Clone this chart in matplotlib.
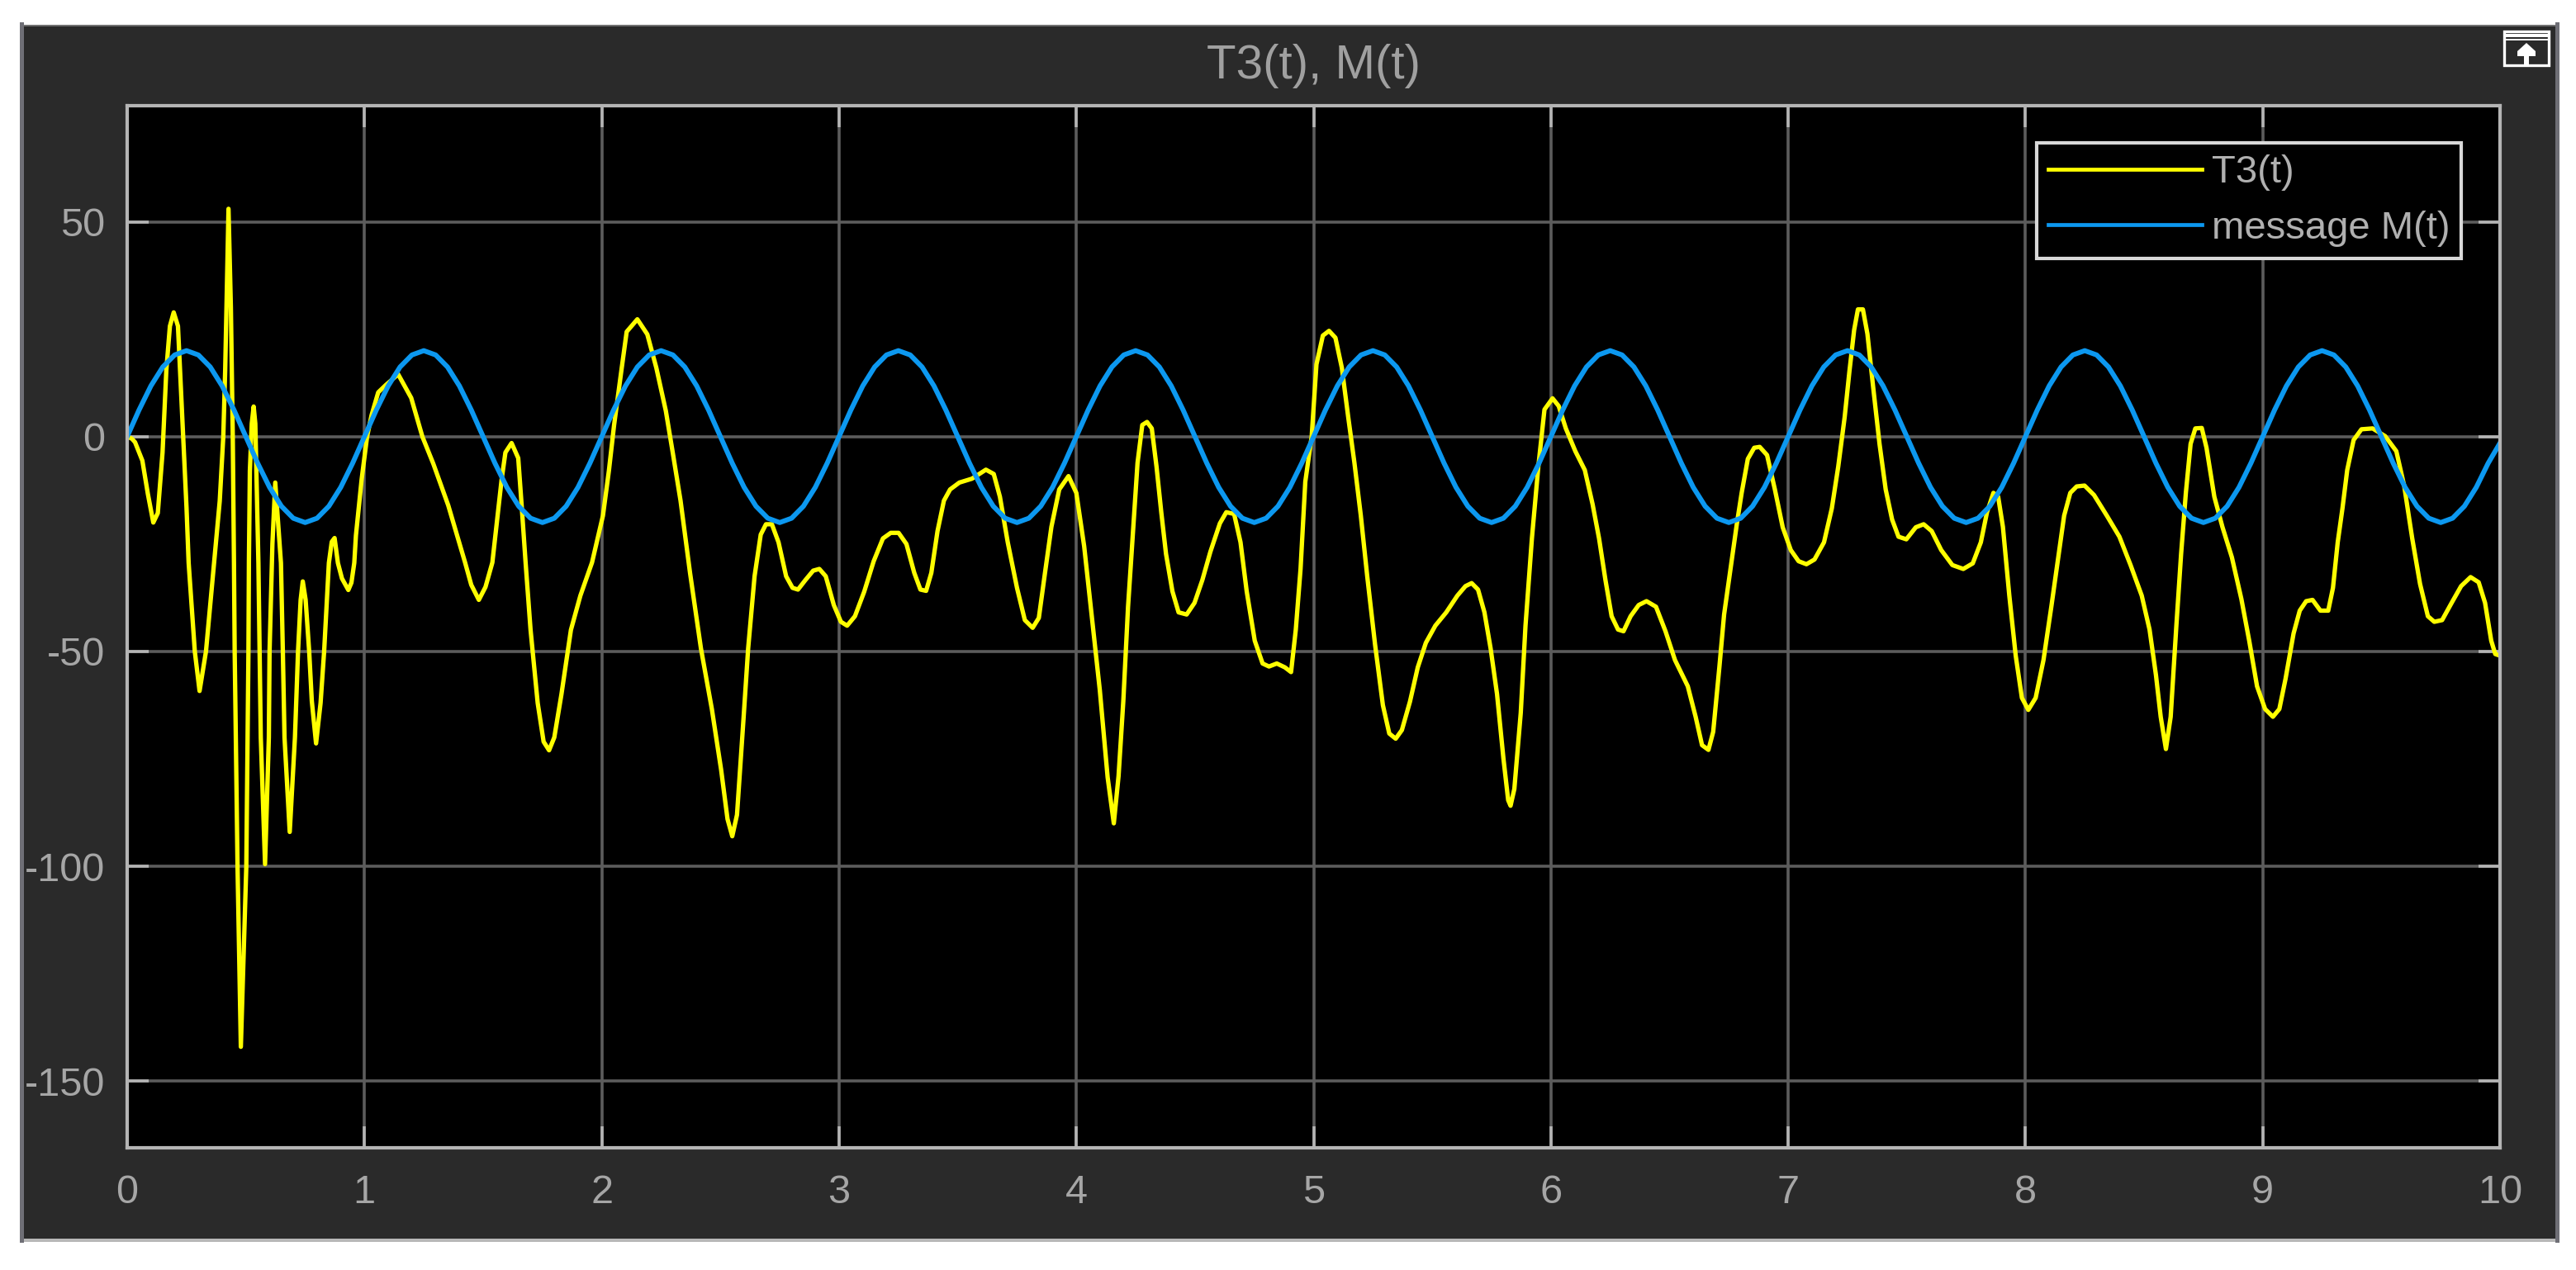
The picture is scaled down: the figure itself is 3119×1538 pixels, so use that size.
import matplotlib
matplotlib.use("Agg")
import matplotlib.pyplot as plt
from matplotlib.patches import Rectangle, Polygon
from matplotlib.transforms import Affine2D

W, H = 3119, 1538

# ----- data -----
t3_time = [
    0, 0.02, 0.033, 0.064, 0.087, 0.11, 0.129, 0.149, 0.165, 0.18, 0.196, 0.214, 0.236, 0.25, 0.259, 0.285,
    0.305, 0.332, 0.366, 0.39, 0.405, 0.413, 0.427, 0.437, 0.445, 0.45, 0.453, 0.465, 0.479, 0.502, 0.511, 0.513,
    0.517, 0.525, 0.533, 0.54, 0.553, 0.558, 0.563, 0.581, 0.597, 0.60, 0.612, 0.624, 0.636, 0.648, 0.656, 0.663,
    0.685, 0.707, 0.72, 0.731, 0.74, 0.752, 0.767, 0.778, 0.796, 0.815, 0.83, 0.85, 0.862, 0.874, 0.888, 0.905,
    0.932, 0.945, 0.957, 0.964, 0.988, 1.011, 1.03, 1.058, 1.09, 1.142, 1.197, 1.244, 1.29, 1.353, 1.40, 1.424,
    1.45, 1.482, 1.51, 1.539, 1.578, 1.594, 1.62, 1.648, 1.663, 1.679, 1.70, 1.73, 1.755, 1.778, 1.80, 1.83,
    1.87, 1.91, 1.959, 2.005, 2.03, 2.052, 2.083, 2.105, 2.15, 2.192, 2.23, 2.27, 2.30,
    2.332, 2.372, 2.418, 2.464, 2.503, 2.53, 2.55, 2.57, 2.597, 2.617, 2.644, 2.67, 2.692, 2.717, 2.745, 2.777,
    2.804, 2.827, 2.858, 2.891, 2.917, 2.944, 2.978, 3.008, 3.034, 3.067, 3.106, 3.146, 3.185, 3.218, 3.251, 3.284,
    3.317, 3.343, 3.367, 3.389, 3.415, 3.442, 3.468, 3.507, 3.56, 3.619, 3.652, 3.678, 3.711, 3.75, 3.783, 3.816,
    3.842, 3.868, 3.895, 3.928, 3.967, 4.0, 4.033, 4.066, 4.099, 4.132,
    4.158, 4.178, 4.198, 4.218, 4.238, 4.258, 4.278, 4.298, 4.318, 4.338, 4.358, 4.378, 4.405, 4.431, 4.465, 4.498,
    4.531, 4.565, 4.605, 4.632, 4.665, 4.692, 4.718, 4.752, 4.785, 4.812, 4.845, 4.879, 4.905, 4.925, 4.945, 4.965,
    4.992, 5.012, 5.039, 5.065, 5.092, 5.119, 5.146, 5.172, 5.199, 5.226, 5.259, 5.292, 5.319, 5.346, 5.372, 5.406,
    5.439, 5.473, 5.513, 5.559, 5.606, 5.64, 5.666, 5.693, 5.72, 5.746, 5.773, 5.80, 5.82, 5.83, 5.846, 5.873,
    5.893, 5.92, 5.947, 5.973, 6.007, 6.033,
    6.063, 6.103, 6.143, 6.176, 6.203, 6.23, 6.256, 6.283, 6.306, 6.336, 6.37, 6.403, 6.443, 6.483, 6.523, 6.577,
    6.61, 6.637, 6.664, 6.684, 6.71, 6.73, 6.757, 6.784, 6.804, 6.83, 6.857, 6.88, 6.911, 6.944, 6.977, 7.011,
    7.044, 7.077, 7.111, 7.151, 7.184, 7.211, 7.238, 7.258, 7.278, 7.294, 7.315, 7.334, 7.358, 7.385, 7.411, 7.438,
    7.465, 7.498, 7.538, 7.571, 7.605, 7.645, 7.692, 7.738, 7.778, 7.812, 7.838, 7.865, 7.885, 7.905, 7.932, 7.959,
    7.985,
    8.012, 8.043, 8.076, 8.109, 8.136, 8.163, 8.189, 8.216, 8.249, 8.289, 8.343, 8.396, 8.443, 8.49, 8.523, 8.55,
    8.57, 8.592, 8.612, 8.636, 8.656, 8.676, 8.696, 8.716, 8.743, 8.763, 8.796, 8.83, 8.87, 8.91, 8.943, 8.976,
    9.01, 9.043, 9.07, 9.096, 9.13, 9.156, 9.183, 9.21, 9.243, 9.276, 9.296, 9.316, 9.336, 9.356, 9.383, 9.416,
    9.463, 9.516, 9.563, 9.596, 9.63, 9.663, 9.696, 9.723, 9.756, 9.796, 9.836, 9.876, 9.91, 9.937, 9.963, 9.98, 10.0,
]
t3_vals = [
    0, -0.5, -1.3, -5.6, -13.3, -20, -17.8, -3.7, 15.5, 25.7, 28.9, 25.7, 0, -16.5, -29.4, -50,
    -59.2, -50, -29.4, -15, 0, 15.5, 53, 30, 0, -29.4, -50, -100, -142, -100, -50, -29,
    -8, 3, 7, 3, -29.4, -50, -70, -99.5, -70, -50, -25, -10.7, -20, -29.4, -50, -70,
    -92, -70, -50, -38, -33.7, -38, -50, -61.5, -71.4, -62, -50, -29.4, -24.5, -23.6, -29.4, -33,
    -35.7, -34, -29.4, -23, -10, 0, 5, 10.3, 12, 14.5, 9, 0, -6.3, -16, -24.8, -29.3,
    -34.5, -38, -35, -29.3, -10, -3.7, -1.5, -5, -16.5, -29.3, -45, -62, -71, -73, -70, -60,
    -45, -37, -29.3, -18.4, -8, 2.7, 15.5, 24.4, 27.3, 23.8, 16, 6, -4,
    -14.9, -31.7, -49.3, -63.4, -77.5, -89, -93, -88, -66, -49.3, -32.5, -22.8, -20.4, -20.4, -24.6, -32.5,
    -35.2, -35.6, -33.4, -31.2, -30.8, -32.5, -39.2, -43.1, -44, -41.8, -36.1, -29, -23.7, -22.4, -22.4, -25,
    -31.7, -35.6, -35.9, -31.7, -22, -14.9, -12.3, -10.7, -9.8, -7.7, -8.7, -14, -24.6, -35.2, -42.7, -44.5,
    -42.2, -31.7, -21, -12.3, -9.2, -13.1, -25.5, -42.2, -59, -79.3,
    -90, -79, -61.6, -39.6, -22.8, -6.1, 2.7, 3.4, 1.9, -7, -17.6, -27.3, -36, -40.9, -41.4, -38.7,
    -33.4, -26.8, -20.2, -17.6, -18, -24.6, -36, -47.5, -52.8, -53.5, -52.8, -53.7, -54.8, -44.9, -30.8, -10.5,
    0.1, 16.8, 23.5, 24.6, 23, 16, 4.5, -6.1, -18.4, -32.5, -48.4, -62.5, -69.1, -70.3, -68.3, -61.7,
    -53.7, -48, -44, -40.9, -37, -34.8, -34.1, -35.6, -40.9, -49.3, -59.9, -74.9, -84.6, -85.9, -82, -64.3,
    -44, -23.7, -7, 6.3, 8.9, 7.1,
    1.9, -3.4, -7.8, -15.8, -23.7, -33.4, -41.8, -44.9, -45.3, -41.8, -39.2, -38.3, -39.6, -45.3, -52, -58.1,
    -65.2, -71.8, -72.9, -68.7, -53.7, -41.4, -30.8, -20.2, -13.1, -5.2, -2.6, -2.4, -4.3, -12.3, -21.1, -26.4,
    -29, -29.7, -28.6, -24.6, -16.7, -7, 4.5, 15.1, 24.8, 29.6, 29.6, 23.9, 11.6, -1.7, -12.3, -19.3,
    -23.3, -23.9, -21.1, -20.4, -22, -26.4, -29.9, -30.8, -29.5, -24.6, -17.6, -13.1, -14, -21, -37, -51,
    -60.8,
    -63.6, -60.8, -52, -39.6, -29, -18.4, -13.1, -11.6, -11.4, -13.6, -18.4, -23.3, -29.9, -37, -44.9, -55.5,
    -65.2, -72.7, -65.2, -44, -27.3, -13.1, -1.7, 1.9, 2, -2.6, -14, -21, -28.1, -37.8, -47.5, -58.1,
    -63.4, -65.2, -63.4, -56.4, -45.8, -40.5, -38.3, -38, -40.5, -40.5, -35.2, -24.6, -16.7, -7.8, -0.8, 1.7,
    1.9, 0.1, -3.4, -11.4, -23.7, -34.3, -41.8, -43.1, -42.7, -38.7, -34.8, -32.7, -33.9, -38.7, -47.5, -50.6, -51,
]
msg_time = [i * 0.05 for i in range(201)]
msg_vals = [
    0, 6.2, 11.8, 16.2, 19, 20, 19, 16.2, 11.8, 6.2, 0, -6.2, -11.8, -16.2, -19, -20, -19, -16.2, -11.8, -6.2,
    0, 6.2, 11.8, 16.2, 19, 20, 19, 16.2, 11.8, 6.2, 0, -6.2, -11.8, -16.2, -19, -20, -19, -16.2, -11.8, -6.2,
    0, 6.2, 11.8, 16.2, 19, 20, 19, 16.2, 11.8, 6.2, 0, -6.2, -11.8, -16.2, -19, -20, -19, -16.2, -11.8, -6.2,
    0, 6.2, 11.8, 16.2, 19, 20, 19, 16.2, 11.8, 6.2, 0, -6.2, -11.8, -16.2, -19, -20, -19, -16.2, -11.8, -6.2,
    0, 6.2, 11.8, 16.2, 19, 20, 19, 16.2, 11.8, 6.2, 0, -6.2, -11.8, -16.2, -19, -20, -19, -16.2, -11.8, -6.2,
    0, 6.2, 11.8, 16.2, 19, 20, 19, 16.2, 11.8, 6.2, 0, -6.2, -11.8, -16.2, -19, -20, -19, -16.2, -11.8, -6.2,
    0, 6.2, 11.8, 16.2, 19, 20, 19, 16.2, 11.8, 6.2, 0, -6.2, -11.8, -16.2, -19, -20, -19, -16.2, -11.8, -6.2,
    0, 6.2, 11.8, 16.2, 19, 20, 19, 16.2, 11.8, 6.2, 0, -6.2, -11.8, -16.2, -19, -20, -19, -16.2, -11.8, -6.2,
    0, 6.2, 11.8, 16.2, 19, 20, 19, 16.2, 11.8, 6.2, 0, -6.2, -11.8, -16.2, -19, -20, -19, -16.2, -11.8, -6.2,
    0, 6.2, 11.8, 16.2, 19, 20, 19, 16.2, 11.8, 6.2, 0, -6.2, -11.8, -16.2, -19, -20, -19, -16.2, -11.8, -6.2,
    -1.5,
]
x_ticks = [0, 1, 2, 3, 4, 5, 6, 7, 8, 9, 10]
y_ticks = [50, 0, -50, -100, -150]
y_labels = ["50", "0", "-50", "-100", "-150"]

plt.rcParams["font.family"] = ["Liberation Sans", "DejaVu Sans"]

fig = plt.figure(figsize=(W / 100, H / 100), dpi=100, facecolor="white")
# pixel coords of the reference, origin top left
px = Affine2D().scale(1 / W, -1 / H).translate(0, 1) + fig.transFigure


def box(x0, y0, x1, y1, color, z=0):
    fig.add_artist(Rectangle((x0, y0), x1 - x0, y1 - y0, transform=px, facecolor=color, edgecolor="none", zorder=z))


# ----- scope window -----
box(29, 31, 3094, 1500, "#2a2a2a")
box(24, 27, 29, 1505, "#6f6f76")
box(29, 30, 3094, 32, "#707070")
box(3094, 27, 3099, 1505, "#6f6f76")
box(29, 1500, 3094, 1504, "#b8b8b8")

# ----- undock icon -----
fig.add_artist(Rectangle((3032, 38), 54, 41, transform=px, facecolor="#2a2a2a", edgecolor="white", linewidth=2.4))
box(3033, 41, 3085, 44.5, "white", 3)
box(3033, 47, 3085, 49, "white", 3)
fig.add_artist(Polygon([(3059, 52), (3070, 62), (3070, 68), (3062, 68), (3062, 78), (3056, 78), (3056, 68), (3048, 68), (3048, 62)],
                       transform=px, facecolor="white", edgecolor="none", zorder=3))

# ----- axes -----
ax = fig.add_axes([154 / W, 1 - 1390 / H, (3027 - 154) / W, (1390 - 128) / H], facecolor="black")
ax.set_xlim(0, 10)
ax.set_ylim(-165.5, 77)
ax.grid(True, color="#5c5c5c", linewidth=2.6)
ax.set_axisbelow(True)

line_t3, = ax.plot(t3_time, t3_vals, color="#ffff00", linewidth=3.8, solid_joinstyle="round", label="T3(t)")
line_msg, = ax.plot(msg_time, msg_vals, color="#0c98f0", linewidth=4.3, solid_joinstyle="round", label="message M(t)")

ax.set_xticks(x_ticks)
ax.set_yticks(y_ticks)
ax.set_yticklabels(y_labels)
ax.tick_params(axis="both", direction="in", length=19, width=2.6, color="#b4b4b4", labelcolor="#a6a6a6", labelsize=35,
               top=True, right=True)
ax.tick_params(axis="x", pad=23)
ax.tick_params(axis="y", pad=19)
for s in ax.spines.values():
    s.set_color("#b4b4b4")
    s.set_linewidth(3)

ax.set_title("T3(t), M(t)", color="#a0a0a0", fontsize=42, pad=24)

leg = ax.legend(loc="upper left", bbox_to_anchor=((2466 - 154) / (3027 - 154), 1 - (173 - 128) / (1390 - 128)),
                borderaxespad=0, fontsize=34, handlelength=3.93, handletextpad=0.25, borderpad=0.3, labelspacing=0.5,
                fancybox=False, framealpha=1, facecolor="black", edgecolor="#d8d8d8", labelcolor="#b0b0b0")
leg.get_frame().set_linewidth(3)
for h in leg.get_lines():
    h.set_linewidth(3.4)

fig.savefig("out.png", dpi=100, facecolor="white")
